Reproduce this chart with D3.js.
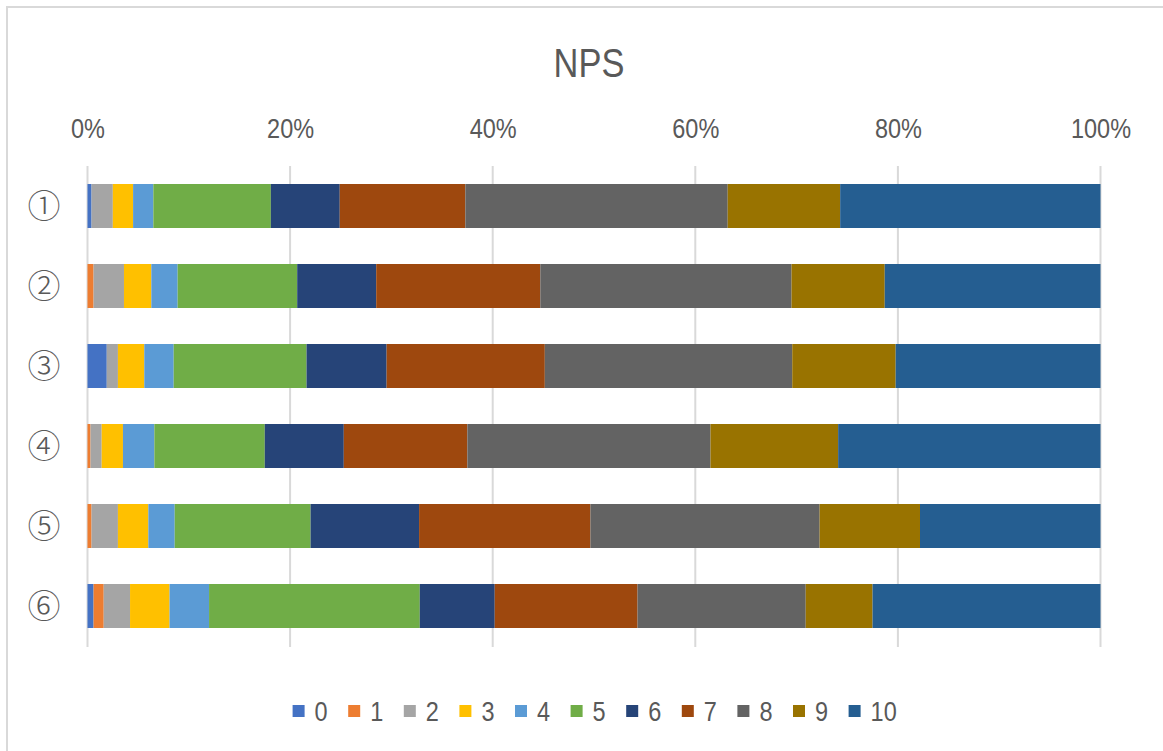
<!DOCTYPE html>
<html>
<head>
<meta charset="utf-8">
<script src="https://cdn.jsdelivr.net/npm/d3@7"></script>
<style>
  html, body { margin: 0; padding: 0; background: #ffffff; }
  svg { display: block; }
</style>
</head>
<body>
<svg id="chart" width="1163" height="751"></svg>
<script>
// ---- data ----
const categories = ["①", "②", "③", "④", "⑤", "⑥"];
const seriesKeys = ["0", "1", "2", "3", "4", "5", "6", "7", "8", "9", "10"];
const score0  = [0.4, 0.0, 1.9, 0.0, 0.0, 0.6];
const score1  = [0.0, 0.6, 0.0, 0.3, 0.4, 1.0];
const score2  = [2.1, 3.0, 1.1, 1.1, 2.6, 2.6];
const score3  = [2.0, 2.7, 2.6, 2.1, 3.0, 3.9];
const score4  = [2.0, 2.6, 2.9, 3.1, 2.6, 3.9];
const score5  = [11.6, 11.8, 13.1, 10.9, 13.4, 20.8];
const score6  = [6.8, 7.8, 7.9, 7.8, 10.7, 7.4];
const score7  = [12.4, 16.2, 15.6, 12.2, 16.9, 14.1];
const score8  = [25.9, 24.8, 24.4, 24.0, 22.6, 16.6];
const score9  = [11.1, 9.2, 10.2, 12.6, 9.9, 6.6];
const score10 = [25.7, 21.3, 20.2, 25.9, 17.8, 22.5];
const tickValues = [0, 0.2, 0.4, 0.6, 0.8, 1.0];
const colors = ["#4472C4", "#ED7D31", "#A5A5A5", "#FFC000", "#5B9BD5", "#70AD47",
                "#264478", "#9E480E", "#636363", "#997300", "#255E91"];

const seriesValues = [score0, score1, score2, score3, score4, score5, score6, score7, score8, score9, score10];
const rows = categories.map((c, i) => {
  const r = { cat: c };
  seriesKeys.forEach((k, j) => { r[k] = seriesValues[j][i]; });
  return r;
});

// ---- layout ----
const svg = d3.select("#chart");
const font = "'Liberation Sans Narrow', 'Arial Narrow', 'Liberation Sans', sans-serif";
const textColor = "#595959";
const squeeze = 0.84;

// chart border
svg.append("rect")
  .attr("x", 7).attr("y", 7)
  .attr("width", 1170).attr("height", 760)
  .attr("fill", "none").attr("stroke", "#d9d9d9").attr("stroke-width", 2);

const x = d3.scaleLinear().domain([0, 1]).range([87.5, 1100.5]);
const y = d3.scaleBand().domain(categories).range([166, 646]).paddingInner(0.45).paddingOuter(0.225);
const color = d3.scaleOrdinal().domain(seriesKeys).range(colors);

// title
svg.append("text")
  .attr("transform", `translate(589,77) scale(${squeeze},1)`)
  .attr("text-anchor", "middle")
  .style("font-family", font).style("font-size", "41px")
  .attr("fill", textColor)
  .text("NPS");

// gridlines
svg.append("g").selectAll("line")
  .data(tickValues)
  .join("line")
  .attr("x1", d => x(d)).attr("x2", d => x(d))
  .attr("y1", 166).attr("y2", 647)
  .attr("stroke", "#d9d9d9").attr("stroke-width", 2);

// top axis
const axis = svg.append("g")
  .attr("transform", "translate(0,138)")
  .call(d3.axisTop(x).tickValues(tickValues).tickFormat(d3.format(".0%")).tickSize(0).tickPadding(0));
axis.select(".domain").remove();
axis.selectAll("text")
  .attr("transform", `scale(${squeeze},1)`)
  .style("font-family", font).style("font-size", "28px")
  .attr("fill", textColor);

// bars
const stack = d3.stack().keys(seriesKeys).offset(d3.stackOffsetExpand);
const stacked = stack(rows);
svg.append("g").selectAll("g")
  .data(stacked)
  .join("g")
  .attr("fill", d => color(d.key))
  .selectAll("rect")
  .data(d => d)
  .join("rect")
  .attr("x", d => x(d[0]))
  .attr("y", d => y(d.data.cat))
  .attr("width", d => Math.max(0, x(d[1]) - x(d[0])))
  .attr("height", y.bandwidth());

// category labels
svg.append("g").selectAll("text")
  .data(categories)
  .join("text")
  .attr("x", 44)
  .attr("y", d => y(d) + y.bandwidth() / 2)
  .attr("dy", "0.36em")
  .attr("text-anchor", "middle")
  .style("font-family", "'Noto Sans CJK JP', 'DejaVu Sans', sans-serif")
  .style("font-size", "33px")
  .style("font-weight", "300")
  .attr("fill", textColor)
  .text(d => d);

// legend
const legend = svg.append("g").selectAll("g")
  .data(seriesKeys)
  .join("g")
  .attr("transform", (d, i) => `translate(${292.6 + 55.6 * i},711)`);
legend.append("rect")
  .attr("x", 0).attr("y", -6)
  .attr("width", 12).attr("height", 12)
  .attr("fill", d => color(d));
legend.append("text")
  .attr("transform", `translate(22,10) scale(${squeeze},1)`)
  .style("font-family", font).style("font-size", "28px")
  .attr("fill", textColor)
  .text(d => d);
</script>
</body>
</html>
